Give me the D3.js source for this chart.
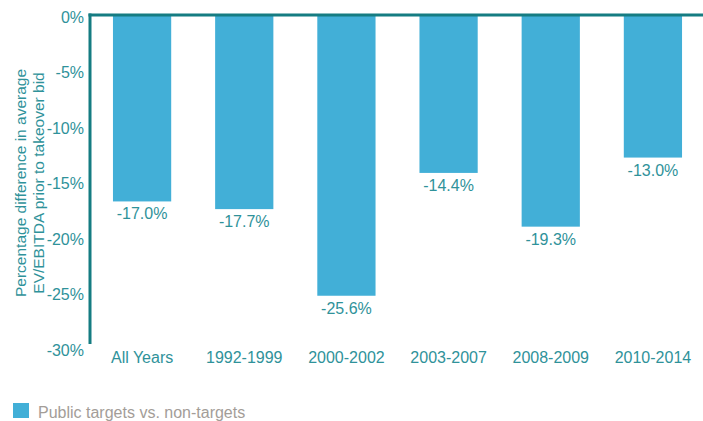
<!DOCTYPE html>
<html>
<head>
<meta charset="utf-8">
<script src="https://cdn.jsdelivr.net/npm/d3@7"></script>
<style>
  html, body { margin: 0; padding: 0; background: #fff; }
  svg { display: block; font-family: "Liberation Sans", Arial, sans-serif; }
</style>
</head>
<body>
<svg id="chart" width="703" height="421"></svg>
<script>
// Periods and the percentage gap in average EV/EBITDA before a takeover bid
const categories = ["All Years", "1992-1999", "2000-2002", "2003-2007", "2008-2009", "2010-2014"];
const values = [-17.0, -17.7, -25.6, -14.4, -19.3, -13.0];
const yTicks = [0, -5, -10, -15, -20, -25, -30];
const seriesName = "Public targets vs. non-targets";
const axisTitle = ["Percentage difference in average", "EV/EBITDA prior to takeover bid"];

const barColor = "#42afd7";
const axisColor = "#157c82";
const textColor = "#2f929a";
const legendText = "#a39d98";
const fontSize = "16px";

const svg = d3.select("#chart");

const x = d3.scaleBand()
  .domain(categories)
  .range([91, 704])
  .paddingInner(0.43)
  .paddingOuter(0.215);

const y = d3.scaleLinear()
  .domain([0, -30])
  .range([15, 344]);

// Bars hang down from the zero line
svg.append("g")
  .selectAll("rect")
  .data(values)
  .join("rect")
  .attr("x", (d, i) => x(categories[i]))
  .attr("y", y(0))
  .attr("width", x.bandwidth())
  .attr("height", d => y(d) - y(0))
  .attr("fill", barColor);

// Value labels beneath each bar
svg.append("g")
  .selectAll("text")
  .data(values)
  .join("text")
  .attr("x", (d, i) => x(categories[i]) + x.bandwidth() / 2)
  .attr("y", d => y(d) + 18)
  .attr("text-anchor", "middle")
  .attr("fill", textColor)
  .style("font-size", fontSize)
  .text(d => d.toFixed(1) + "%");

// Y axis labels
const yAxis = d3.axisLeft(y)
  .tickValues(yTicks)
  .tickSize(0)
  .tickPadding(6)
  .tickFormat(d => d + "%");
const gy = svg.append("g")
  .attr("transform", "translate(90,0)")
  .call(yAxis);
gy.select(".domain").remove();
gy.selectAll("text")
  .attr("fill", textColor)
  .attr("dy", (d, i) => (0.45 + i * 0.04) + "em")
  .style("font-size", fontSize)
  .style("font-family", "Liberation Sans, Arial, sans-serif");

// Category labels along the bottom
const xAxis = d3.axisBottom(x).tickSize(0).tickPadding(0);
const gx = svg.append("g")
  .attr("transform", "translate(0,345)")
  .call(xAxis);
gx.select(".domain").remove();
gx.selectAll("text")
  .attr("fill", textColor)
  .attr("dy", "0.5em")
  .attr("y", 10)
  .style("font-size", fontSize)
  .style("font-family", "Liberation Sans, Arial, sans-serif");

// Axis lines: vertical axis and zero baseline
svg.append("line")
  .attr("x1", 90).attr("x2", 90)
  .attr("y1", y(0) - 1.5).attr("y2", y(-30))
  .attr("stroke", axisColor).attr("stroke-width", 3);
svg.append("line")
  .attr("x1", 88.5).attr("x2", 703)
  .attr("y1", y(0)).attr("y2", y(0))
  .attr("stroke", axisColor).attr("stroke-width", 3);

// Rotated two-line axis title
const title = svg.append("text")
  .attr("transform", "translate(21,183) rotate(-90)")
  .attr("text-anchor", "middle")
  .attr("fill", textColor)
  .style("font-size", "15.5px");
title.selectAll("tspan")
  .data(axisTitle)
  .join("tspan")
  .attr("x", 0)
  .attr("dy", (d, i) => i === 0 ? "0.35em" : "1.15em")
  .text(d => d);

// Legend
svg.append("rect")
  .attr("x", 13).attr("y", 403)
  .attr("width", 16).attr("height", 15)
  .attr("fill", barColor);
svg.append("text")
  .attr("x", 38).attr("y", 418)
  .attr("fill", legendText)
  .style("font-size", fontSize)
  .text(seriesName);
</script>
</body>
</html>
